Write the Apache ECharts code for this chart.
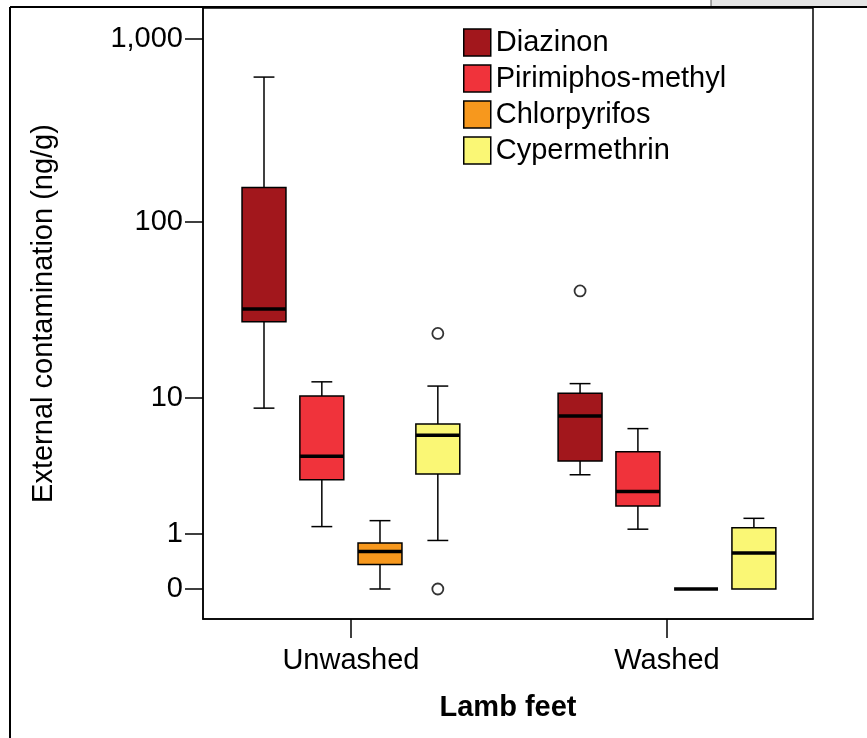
<!DOCTYPE html>
<html>
<head>
<meta charset="utf-8">
<script src="https://cdn.jsdelivr.net/npm/echarts@6/dist/echarts.min.js"></script>
<style>
  html, body { margin: 0; padding: 0; background: #fff; }
  #chart { width: 867px; height: 738px; }
</style>
</head>
<body>
<div id="chart"></div>
<script>
  // groups on the x axis
  const groups = ['Unwashed', 'Washed']
  const substances = ['Diazinon', 'Pirimiphos-methyl', 'Chlorpyrifos', 'Cypermethrin']
  const colors = ['#a2171c', '#f0333b', '#f7981d', '#faf775']
  // box stats per group: [lower whisker, Q1, median, Q3, upper whisker] in ng/g
  const diazinon = [[8.7, 27.7, 32.7, 154, 620], [3.2, 4.0, 7.8, 10.7, 12.2]]
  const pirimiphos = [[1.19, 2.95, 4.3, 10.3, 12.5], [1.12, 1.84, 2.4, 4.6, 6.5]]
  const chlorpyrifos = [[0, 0.36, 0.6, 0.78, 1.36], [0, 0, 0, 0, 0]]
  const cypermethrin = [[0.84, 3.24, 5.9, 6.95, 11.8], [0, 0, 0.57, 1.16, 1.43]]
  // outliers: [group index, substance index, value]
  const outliers = [[0, 3, 23.8], [0, 3, 0], [1, 0, 41.3]]
  const yTicks = [0, 1, 10, 100, 1000]

  const allStats = [diazinon, pirimiphos, chlorpyrifos, cypermethrin]
  const offsets = [-0.275, -0.092, 0.092, 0.275]
  const boxW = 0.139
  const capW = 0.066
  const font = '"Liberation Sans", Arial, sans-serif'

  // SPSS "safe log" scale
  const safeLog = v => Math.log10(1 + v)

  const chart = echarts.init(document.getElementById('chart'))

  function boxSeries(idx) {
    return {
      name: substances[idx],
      type: 'custom',
      itemStyle: { color: colors[idx], borderColor: '#000', borderWidth: 1.5 },
      data: allStats[idx].map((s, g) => [g].concat(s)),
      renderItem(params, api) {
        const xc = api.value(0) + offsets[idx]
        const lo = api.value(1), q1 = api.value(2), med = api.value(3), q3 = api.value(4), hi = api.value(5)
        const p = v => api.coord([xc, safeLog(v)])
        const hb = api.size([boxW, 0])[0] / 2
        const hc = api.size([capW, 0])[0] / 2
        const line = { stroke: '#000', lineWidth: 1.5 }
        const kids = []
        if (hi > q3) {
          kids.push({ type: 'line', shape: { x1: p(hi)[0], y1: p(hi)[1], x2: p(q3)[0], y2: p(q3)[1] }, style: line })
          kids.push({ type: 'line', shape: { x1: p(hi)[0] - hc, y1: p(hi)[1], x2: p(hi)[0] + hc, y2: p(hi)[1] }, style: line })
        }
        if (lo < q1) {
          kids.push({ type: 'line', shape: { x1: p(lo)[0], y1: p(lo)[1], x2: p(q1)[0], y2: p(q1)[1] }, style: line })
          kids.push({ type: 'line', shape: { x1: p(lo)[0] - hc, y1: p(lo)[1], x2: p(lo)[0] + hc, y2: p(lo)[1] }, style: line })
        }
        if (q3 > q1) {
          kids.push({
            type: 'rect',
            shape: { x: p(q3)[0] - hb, y: p(q3)[1], width: hb * 2, height: p(q1)[1] - p(q3)[1] },
            style: { fill: colors[idx], stroke: '#000', lineWidth: 1.5 }
          })
        }
        kids.push({ type: 'line', shape: { x1: p(med)[0] - hb, y1: p(med)[1], x2: p(med)[0] + hb, y2: p(med)[1] }, style: { stroke: '#000', lineWidth: 3.5 } })
        return { type: 'group', children: kids }
      }
    }
  }

  chart.setOption({
    animation: false,
    textStyle: { fontFamily: font },
    graphic: [
      { type: 'rect', shape: { x: 711, y: 0, width: 156, height: 7 }, style: { fill: '#e4e4e4' } },
      { type: 'line', shape: { x1: 711, y1: 0, x2: 711, y2: 7 }, style: { stroke: '#555', lineWidth: 1 } },
      { type: 'line', shape: { x1: 10, y1: 7, x2: 867, y2: 7 }, style: { stroke: '#000', lineWidth: 2 } },
      { type: 'line', shape: { x1: 10, y1: 7, x2: 10, y2: 738 }, style: { stroke: '#000', lineWidth: 2 } }
    ],
    grid: {
      left: 203, top: 8, right: 54, bottom: 119,
      show: true, borderColor: '#000', borderWidth: 1.5
    },
    legend: {
      data: substances,
      orient: 'vertical',
      left: 458, top: 23,
      icon: 'rect',
      itemWidth: 27, itemHeight: 27, itemGap: 7,
      itemStyle: { borderColor: '#000', borderWidth: 1.5 },
      textStyle: { fontSize: 29, color: '#000', fontFamily: font, lineHeight: 28 }
    },
    xAxis: {
      type: 'value',
      min: -0.468, max: 1.462,
      name: 'Lamb feet',
      nameLocation: 'middle',
      nameGap: 74,
      nameTextStyle: { fontSize: 29, fontWeight: 'bold', color: '#000' },
      axisLine: { onZero: false, lineStyle: { color: '#000', width: 1.5 } },
      axisTick: { show: true, customValues: [0, 1], length: 19, lineStyle: { color: '#000', width: 1.5 } },
      axisLabel: {
        customValues: [0, 1],
        formatter: v => groups[Math.round(v)],
        fontSize: 29, color: '#000', margin: 27
      },
      splitLine: { show: false }
    },
    yAxis: {
      type: 'value',
      min: -0.1637, max: 3.17,
      name: 'External contamination (ng/g)',
      nameLocation: 'middle',
      nameGap: 145,
      nameTextStyle: { fontSize: 29, color: '#000' },
      axisLine: { show: true, onZero: false, lineStyle: { color: '#000', width: 1.5 } },
      axisTick: { show: true, customValues: yTicks.map(safeLog), length: 18, lineStyle: { color: '#000', width: 1.5 } },
      axisLabel: {
        customValues: yTicks.map(safeLog),
        formatter: v => Math.round(Math.pow(10, v) - 1).toLocaleString('en-US'),
        fontSize: 29, color: '#000', margin: 20
      },
      splitLine: { show: false }
    },
    series: substances.map((n, i) => boxSeries(i)).concat([{
      name: 'outliers',
      type: 'scatter',
      symbol: 'circle',
      symbolSize: 11,
      itemStyle: { color: '#fff', borderColor: '#000', borderWidth: 1.8 },
      data: outliers.map(o => [o[0] + offsets[o[1]], safeLog(o[2])])
    }])
  })
</script>
</body>
</html>
